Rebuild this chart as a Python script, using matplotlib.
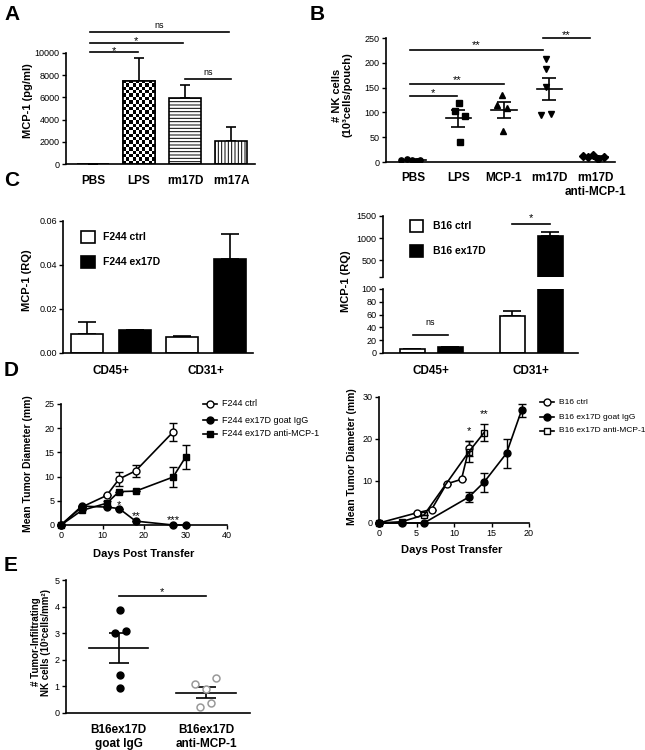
import numpy as np
import matplotlib.pyplot as plt
from matplotlib.patches import Rectangle
from matplotlib.lines import Line2D

plt.rcParams['font.family'] = ['Liberation Sans', 'DejaVu Sans']
plt.rcParams['hatch.linewidth'] = 0.7

# ---- data ----
# A: MCP-1 ELISA
a_groups = ['PBS', 'LPS', 'rm17D', 'rm17A']
a_mean = [30, 7480, 5930, 2100]
a_sem = [0, 2100, 1200, 1190]

# B: NK cells per pouch
b_groups = ['PBS', 'LPS', 'MCP-1', 'rm17D', 'rm17D\nanti-MCP-1']
b_points = [[4, 6, 5, 3, 5], [119, 103, 93, 40], [136, 114, 109, 62],
            [207, 188, 152, 94, 96], [13, 15, 10, 7, 10]]
b_jitter = [[-0.25, -0.12, -0.02, 0.08, 0.16], [0.02, -0.08, 0.14, 0.03],
            [-0.05, -0.16, 0.07, -0.03], [-0.07, -0.07, -0.07, -0.18, 0.03],
            [-0.26, -0.04, -0.15, 0.07, 0.2]]
b_mean = [5, 88, 105, 147, 11]
b_sem = [1, 17, 16, 23, 2]
b_markers = ['o', 's', '^', 'v', 'D']

# C: MCP-1 RQ by sorted population
c_groups = ['CD45+', 'CD31+']
c_f244_ctrl = [0.0088, 0.0075]
c_f244_ctrl_sem = [0.0053, 0.0003]
c_f244_ex = [0.0103, 0.0428]
c_f244_ex_sem = [0, 0.0114]
c_b16_ctrl = [7, 58]
c_b16_ctrl_sem = [0, 8]
c_b16_ex = [10, 1040]
c_b16_ex_sem = [0, 100]

# D: tumour growth
d_f244_ctrl_days = [0, 5, 11, 14, 18, 27]
d_f244_ctrl = [0, 3.7, 6.1, 9.5, 11.2, 19.2]
d_f244_ctrl_sem = [0, 0, 0, 1.5, 1.3, 1.9]
d_f244_igg_days = [0, 5, 11, 14, 18, 27, 30]
d_f244_igg = [0, 3.9, 3.7, 3.4, 0.8, 0, 0]
d_f244_igg_sem = [0, 0, 0, 0, 0, 0, 0]
d_f244_anti_days = [0, 5, 11, 14, 18, 27, 30]
d_f244_anti = [0, 3.0, 4.5, 6.9, 7.0, 9.9, 14.0]
d_f244_anti_sem = [0, 0, 0.5, 0, 0, 2.0, 2.5]

d_b16_ctrl_days = [0, 5, 7, 9, 11, 12]
d_b16_ctrl = [0, 2.4, 3.2, 9.3, 10.4, 17.8]
d_b16_ctrl_sem = [0, 0, 0, 0, 0, 1.8]
d_b16_igg_days = [0, 3, 6, 12, 14, 17, 19]
d_b16_igg = [0, 0, 0, 6.2, 9.7, 16.6, 26.8]
d_b16_igg_sem = [0, 0, 0, 1.2, 2.2, 3.4, 1.6]
d_b16_anti_days = [0, 3, 6, 12, 14]
d_b16_anti = [0, 0.3, 1.9, 17.0, 21.5]
d_b16_anti_sem = [0, 0, 0, 2.5, 2.0]

# E: tumour-infiltrating NK cells
e_groups = ['B16ex17D\ngoat IgG', 'B16ex17D\nanti-MCP-1']
e_igg = [3.87, 2.99, 3.09, 1.41, 0.94]
e_igg_jit = [0.02, -0.04, 0.08, 0.02, 0.02]
e_anti = [1.10, 0.92, 1.33, 0.38, 0.23]
e_anti_jit = [-0.13, 0.0, 0.11, 0.05, -0.07]
e_mean = [2.45, 0.77]
e_sem = [0.56, 0.21]

W, H = 645, 750
fig = plt.figure(figsize=(W / 100, H / 100), dpi=100)


def px_axes(x0, y0, x1, y1):
    return fig.add_axes([x0 / W, 1 - y1 / H, (x1 - x0) / W, (y1 - y0) / H])


def ftext(x, y, s, **kw):
    fig.text(x / W, 1 - y / H, s, **kw)


def style(ax, xticks=False, xpad=8):
    for s in ['top', 'right']:
        ax.spines[s].set_visible(False)
    for s in ['left', 'bottom']:
        ax.spines[s].set_linewidth(1.2)
    ax.tick_params(axis='y', direction='out', length=3, width=1.0, labelsize=6.5, pad=1.5)
    if xticks:
        ax.tick_params(axis='x', direction='out', length=3, width=1.0, labelsize=6.5, pad=1.5)
    else:
        ax.tick_params(axis='x', length=0, labelsize=8.5, pad=xpad)
        for t in ax.get_xticklabels():
            t.set_fontweight('bold')


def mark(ax, x, y, txt, off_px):
    # stars sit high in their text box, so pull them down a little
    if '*' in txt:
        off_px -= 2.6
        fs = 8
    else:
        fs = 6.5
    ax.annotate(txt, xy=(x, y), xytext=(0, off_px * 0.72), textcoords='offset points',
                ha='center', va='center', fontsize=fs, annotation_clip=False)


def sig(ax, x0, x1, y, txt, off_px):
    ax.plot([x0, x1], [y, y], color='k', lw=1.2, clip_on=False)
    mark(ax, (x0 + x1) / 2, y, txt, off_px)


def up_err(ax, x, y, e, cap):
    ax.errorbar(x, y, yerr=[[0] * len(e), e], fmt='none', ecolor='k', elinewidth=1.2,
                capsize=cap, capthick=1.2, zorder=1)


# ---------------- A ----------------
ax = px_axes(66, 53, 255, 164)
xa = np.arange(len(a_groups))
bw = 0.69
bars = ax.bar(xa, a_mean, bw, color='white', edgecolor='k', lw=1.2, zorder=2)
bars[2].set_hatch('-----')
bars[3].set_hatch('|||||')
checker = np.indices((25, 10)).sum(0) % 2
im = ax.imshow(checker, cmap='gray', interpolation='nearest', aspect='auto', zorder=2,
               extent=(xa[1] - bw / 2, xa[1] + bw / 2, 0, a_mean[1]))
im.set_clip_path(bars[1])
ax.bar(xa[1], a_mean[1], bw, color='none', edgecolor='k', lw=1.2, zorder=3)
up_err(ax, xa, a_mean, a_sem, 3.6)
ax.set_xlim(-0.59, 3.52)
ax.set_ylim(0, 10000)
ax.set_yticks([0, 2000, 4000, 6000, 8000, 10000])
ax.set_xticks(xa)
ax.set_xticklabels(a_groups)
style(ax)
sig(ax, -0.07, 0.97, 10060, '*', 4)
sig(ax, -0.07, 1.95, 10930, '*', 4)
sig(ax, -0.07, 2.95, 11890, 'ns', 7)
sig(ax, 2.0, 3.0, 7630, 'ns', 7)
ftext(28, 101, 'MCP-1 (pg/ml)', rotation=90, ha='center', va='center', fontsize=8, fontweight='bold')

# ---------------- B ----------------
ax = px_axes(386, 38, 615, 162)
for i in range(len(b_groups)):
    xs = i + np.array(b_jitter[i])
    ax.plot(xs, b_points[i], b_markers[i], color='k', ms=3.8, zorder=3)
    ax.plot([i - 0.28, i + 0.28], [b_mean[i]] * 2, color='k', lw=1.2)
    ax.errorbar(i, b_mean[i], yerr=b_sem[i], fmt='none', ecolor='k', elinewidth=1.2,
                capsize=5, capthick=1.2)
ax.set_xlim(-0.59, 4.44)
ax.set_ylim(0, 250)
ax.set_yticks([0, 50, 100, 150, 200, 250])
ax.set_xticks(range(len(b_groups)))
ax.set_xticklabels(b_groups, va='top')
style(ax, xpad=7)
sig(ax, -0.07, 0.97, 133, '*', 6)
sig(ax, -0.07, 2.0, 158, '**', 6)
sig(ax, -0.07, 2.85, 226, '**', 7)
sig(ax, 2.85, 3.9, 249, '**', 6)
ftext(342, 95, '# NK cells\n(10³cells/pouch)', rotation=90, ha='center', va='center',
      fontsize=8, fontweight='bold', linespacing=1.1)

# ---------------- C left ----------------
ax = px_axes(63, 221, 253, 353)
xc = np.arange(len(c_groups))
ax.bar(xc - 0.25, c_f244_ctrl, 0.336, color='white', edgecolor='k', lw=1.2, zorder=2)
ax.bar(xc + 0.25, c_f244_ex, 0.336, color='black', edgecolor='k', lw=1.2, zorder=2)
up_err(ax, xc - 0.25, c_f244_ctrl, c_f244_ctrl_sem, 6.5)
up_err(ax, xc + 0.25, c_f244_ex, c_f244_ex_sem, 6.5)
ax.set_xlim(-0.5, 1.49)
ax.set_ylim(0, 0.06)
ax.set_yticks([0, 0.02, 0.04, 0.06])
ax.set_yticklabels(['0.00', '0.02', '0.04', '0.06'])
ax.set_xticks(xc)
ax.set_xticklabels(c_groups)
style(ax, xpad=9)
ftext(27, 280, 'MCP-1 (RQ)', rotation=90, ha='center', va='center', fontsize=8, fontweight='bold')

# legend boxes (C left)
for (yy, fc, lab) in [(231, 'white', 'F244 ctrl'), (256, 'black', 'F244 ex17D')]:
    fig.add_artist(Rectangle((81 / W, 1 - (yy + 12) / H), 14 / W, 12 / H, transform=fig.transFigure,
                             facecolor=fc, edgecolor='k', lw=1.2))
    ftext(103, yy + 6, lab, ha='left', va='center', fontsize=7.5, fontweight='bold')

# ---------------- C right (broken axis) ----------------
axl = px_axes(383, 289, 578, 353)
axu = px_axes(383, 216, 578, 277)
for a in (axl, axu):
    a.bar(xc - 0.19, c_b16_ctrl, 0.25, color='white', edgecolor='k', lw=1.2, zorder=2)
    a.bar(xc + 0.19, c_b16_ex, 0.25, color='black', edgecolor='k', lw=1.2, zorder=2)
    up_err(a, xc - 0.19, c_b16_ctrl, c_b16_ctrl_sem, 6.5)
    up_err(a, xc + 0.19, c_b16_ex, c_b16_ex_sem, 6.5)
    a.set_xlim(-0.48, 1.47)
    style(a, xpad=9)
axl.set_ylim(0, 100)
axl.set_yticks([0, 20, 40, 60, 80, 100])
axl.set_xticks(xc)
axl.set_xticklabels(c_groups)
for t in axl.get_xticklabels():
    t.set_fontweight('bold')
axu.set_ylim(114, 1500)
axu.set_yticks([114, 500, 1000, 1500])
axu.set_yticklabels(['', '500', '1000', '1500'])
axu.spines['bottom'].set_visible(False)
axu.set_xticks([])
sig(axl, -0.18, 0.17, 28, 'ns', 13)
sig(axu, 0.81, 1.19, 1328, '*', 8)
ftext(346, 281, 'MCP-1 (RQ)', rotation=90, ha='center', va='center', fontsize=8, fontweight='bold')
for (yy, fc, lab) in [(220, 'white', 'B16 ctrl'), (245, 'black', 'B16 ex17D')]:
    fig.add_artist(Rectangle((410 / W, 1 - (yy + 12) / H), 13 / W, 12 / H, transform=fig.transFigure,
                             facecolor=fc, edgecolor='k', lw=1.2))
    ftext(433, yy + 6, lab, ha='left', va='center', fontsize=7.5, fontweight='bold')


# ---------------- D ----------------
def growth(ax, days, vals, sem, marker, mfc):
    ax.errorbar(days, vals, yerr=sem, color='k', lw=1.2, marker=marker, ms=5, mfc=mfc, mec='k',
                mew=1.0, capsize=3, capthick=1.0, elinewidth=1.0, clip_on=False, zorder=3)


def legend_rows(x, ys, labels, styles, fs):
    for yy, lab, (m, mfc) in zip(ys, labels, styles):
        fig.add_artist(Line2D([x / W, (x + 14) / W], [1 - yy / H] * 2, color='k', lw=1.2,
                              transform=fig.transFigure))
        fig.add_artist(Line2D([(x + 7) / W], [1 - yy / H], marker=m, ms=5, mfc=mfc, mec='k', mew=1.0,
                              transform=fig.transFigure))
        ftext(x + 19, yy, lab, ha='left', va='center', fontsize=fs)


ax = px_axes(61, 404, 227, 525)
growth(ax, d_f244_ctrl_days, d_f244_ctrl, d_f244_ctrl_sem, 'o', 'white')
growth(ax, d_f244_igg_days, d_f244_igg, d_f244_igg_sem, 'o', 'black')
growth(ax, d_f244_anti_days, d_f244_anti, d_f244_anti_sem, 's', 'black')
ax.set_xlim(0, 40)
ax.set_ylim(0, 25)
ax.set_xticks([0, 10, 20, 30, 40])
ax.set_yticks([0, 5, 10, 15, 20, 25])
style(ax, xticks=True)
mark(ax, 14, 4.6, '*', 0)
mark(ax, 18, 2.4, '**', 0)
mark(ax, 27, 1.6, '***', 0)
ftext(144, 554, 'Days Post Transfer', ha='center', va='center', fontsize=8, fontweight='bold')
ftext(28, 464, 'Mean Tumor Diameter (mm)', rotation=90, ha='center', va='center', fontsize=7.5,
      fontweight='bold')
legend_rows(203, [404, 420, 434], ['F244 ctrl', 'F244 ex17D goat IgG', 'F244 ex17D anti-MCP-1'],
            [('o', 'white'), ('o', 'black'), ('s', 'black')], 6.5)

ax = px_axes(379, 397, 529, 523)
growth(ax, d_b16_ctrl_days, d_b16_ctrl, d_b16_ctrl_sem, 'o', 'white')
growth(ax, d_b16_igg_days, d_b16_igg, d_b16_igg_sem, 'o', 'black')
growth(ax, d_b16_anti_days, d_b16_anti, d_b16_anti_sem, 's', 'none')
ax.set_xlim(0, 20)
ax.set_ylim(0, 30)
ax.set_xticks([0, 5, 10, 15, 20])
ax.set_yticks([0, 10, 20, 30])
style(ax, xticks=True)
mark(ax, 12, 22.5, '*', 0)
mark(ax, 14, 26.5, '**', 0)
ftext(452, 550, 'Days Post Transfer', ha='center', va='center', fontsize=8, fontweight='bold')
ftext(352, 457, 'Mean Tumor Diameter (mm)', rotation=90, ha='center', va='center', fontsize=7.5,
      fontweight='bold')
legend_rows(540, [402, 417, 431], ['B16 ctrl', 'B16 ex17D goat IgG', 'B16 ex17D anti-MCP-1'],
            [('o', 'white'), ('o', 'black'), ('s', 'white')], 6)

# ---------------- E ----------------
ax = px_axes(66, 580, 250, 713)
ax.plot(0 + np.array(e_igg_jit), e_igg, 'o', ms=5, mfc='black', mec='black', zorder=3)
ax.plot(1 + np.array(e_anti_jit), e_anti, 'o', ms=5, mfc='white', mec='#999999', mew=1.1, zorder=3)
for i in range(2):
    ax.plot([i - 0.34, i + 0.34], [e_mean[i]] * 2, color='k', lw=1.2)
    ax.errorbar(i, e_mean[i], yerr=e_sem[i], fmt='none', ecolor='k', elinewidth=1.2,
                capsize=7, capthick=1.2)
ax.set_xlim(-0.6, 1.5)
ax.set_ylim(0, 5)
ax.set_yticks([0, 1, 2, 3, 4, 5])
ax.set_xticks([0, 1])
ax.set_xticklabels(e_groups)
style(ax, xpad=8)
sig(ax, 0.0, 1.0, 4.4, '*', 6)
ftext(41, 642, '# Tumor-Infiltrating\nNK cells (10³cells/mm²)', rotation=90, ha='center',
      va='center', fontsize=7, fontweight='bold', linespacing=1.1)

# panel letters
for (x, y, s) in [(4, 5, 'A'), (310, 5, 'B'), (4, 171, 'C'), (4, 361, 'D'), (4, 556, 'E')]:
    ftext(x, y, s, ha='left', va='top', fontsize=15, fontweight='bold')

fig.savefig('out.png', dpi=100)
